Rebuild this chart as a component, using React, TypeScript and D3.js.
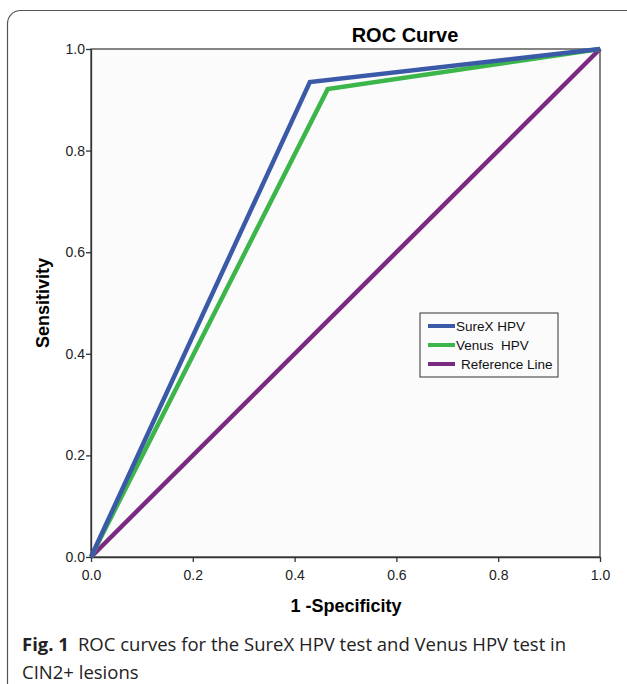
import * as d3 from 'd3'
import { useEffect, useRef } from 'react'

const fpr = [0, 0.2, 0.4, 0.6, 0.8, 1.0]
const sens = [0, 0.2, 0.4, 0.6, 0.8, 1.0]
const seriesNames = ['SureX HPV', 'Venus  HPV', 'Reference Line']
const sureX = [[0, 0], [0.43, 0.935], [1, 1]]
const venus = [[0, 0], [0.465, 0.921], [1, 1]]
const refLine = [[0, 0], [1, 1]]
const colors = ['#3a5aa8', '#3cb64a', '#7a2a80']

const App = () => {
  const svgRef = useRef()

  useEffect(() => {
    const svg = d3.select(svgRef.current)
    svg.selectAll('*').remove()

    const margin = { top: 49, left: 91 }
    const width = 509
    const height = 508
    const arial = 'Liberation Sans, Arial, sans-serif'

    // outer figure frame
    svg
      .append('rect')
      .attr('x', 7.5)
      .attr('y', 10.5)
      .attr('width', 640)
      .attr('height', 700)
      .attr('rx', 13)
      .attr('fill', 'white')
      .attr('stroke', '#555')
      .attr('stroke-width', 1.2)

    const x = d3.scaleLinear().domain([0, 1]).range([0, width])
    const y = d3.scaleLinear().domain([0, 1]).range([height, 0])

    const g = svg.append('g').attr('transform', `translate(${margin.left},${margin.top})`)

    g.append('rect')
      .attr('width', width)
      .attr('height', height)
      .attr('fill', '#fbfbfb')
      .attr('stroke', '#444')
      .attr('stroke-width', 1.3)

    const xAxis = d3.axisBottom(x).tickValues(fpr).tickFormat(d3.format('.1f')).tickSize(5).tickSizeOuter(0)
    const yAxis = d3.axisLeft(y).tickValues(sens).tickFormat(d3.format('.1f')).tickSize(5).tickSizeOuter(0)

    const xg = g.append('g').attr('transform', `translate(0,${height})`).call(xAxis)
    const yg = g.append('g').call(yAxis)
    ;[xg, yg].forEach((ax) => {
      ax.select('.domain').attr('stroke', '#333').attr('stroke-width', 1.3)
      ax.selectAll('line').attr('stroke', '#333').attr('stroke-width', 1.3)
      ax.selectAll('text')
        .attr('fill', '#222')
        .style('font-family', arial)
        .style('font-size', '14px')
    })
    xg.selectAll('text').attr('dy', '1.1em')
    yg.selectAll('text').attr('x', -6)

    const line = d3
      .line()
      .x((d) => x(d[0]))
      .y((d) => y(d[1]))

    ;[refLine, venus, sureX].forEach((s, i) => {
      const c = [colors[2], colors[1], colors[0]][i]
      g.append('path')
        .attr('d', line(s))
        .attr('fill', 'none')
        .attr('stroke', c)
        .attr('stroke-width', 4.5)
        .attr('stroke-linejoin', 'miter')
    })

    // title
    svg
      .append('text')
      .attr('x', 405)
      .attr('y', 42)
      .attr('text-anchor', 'middle')
      .style('font-family', arial)
      .style('font-size', '20px')
      .style('font-weight', 'bold')
      .text('ROC Curve')

    // axis labels
    svg
      .append('text')
      .attr('x', 346)
      .attr('y', 612)
      .attr('text-anchor', 'middle')
      .style('font-family', arial)
      .style('font-size', '18px')
      .style('font-weight', 'bold')
      .text('1 -Specificity')

    svg
      .append('text')
      .attr('transform', `translate(49,${margin.top + height / 2}) rotate(-90)`)
      .attr('text-anchor', 'middle')
      .style('font-family', arial)
      .style('font-size', '18px')
      .style('font-weight', 'bold')
      .text('Sensitivity')

    // legend
    const lg = svg.append('g').attr('transform', 'translate(420,313)')
    lg.append('rect')
      .attr('width', 138)
      .attr('height', 64)
      .attr('fill', '#fbfbfb')
      .attr('stroke', '#333')
      .attr('stroke-width', 1)
    seriesNames.forEach((name, i) => {
      const yy = 13 + i * 19
      lg.append('line')
        .attr('x1', 8)
        .attr('x2', 35)
        .attr('y1', yy)
        .attr('y2', yy)
        .attr('stroke', colors[i])
        .attr('stroke-width', 4)
      lg.append('text')
        .attr('x', i === 2 ? 41 : 36)
        .attr('y', yy + 5)
        .style('font-family', arial)
        .style('font-size', '13.5px')
        .style('white-space', 'pre')
        .attr('fill', '#111')
        .text(name)
    })

    // caption
    const cap = svg
      .append('text')
      .attr('x', 22)
      .attr('y', 651)
      .style('font-family', 'Open Sans, Noto Sans, sans-serif')
      .style('font-size', '18.5px')
      .attr('fill', '#222')
    cap.append('tspan').style('font-weight', 'bold').text('Fig. 1')
    cap.append('tspan').attr('dx', 9).text('ROC curves for the SureX HPV test and Venus HPV test in')
    svg
      .append('text')
      .attr('x', 22)
      .attr('y', 679)
      .style('font-family', 'Open Sans, Noto Sans, sans-serif')
      .style('font-size', '18.5px')
      .attr('fill', '#222')
      .text('CIN2+ lesions')
  }, [])

  return (
    <svg
      width="627"
      height="684"
      ref={svgRef}
      style={{ position: 'absolute', left: 0, top: 0, background: 'white' }}
    ></svg>
  )
}

export default App
